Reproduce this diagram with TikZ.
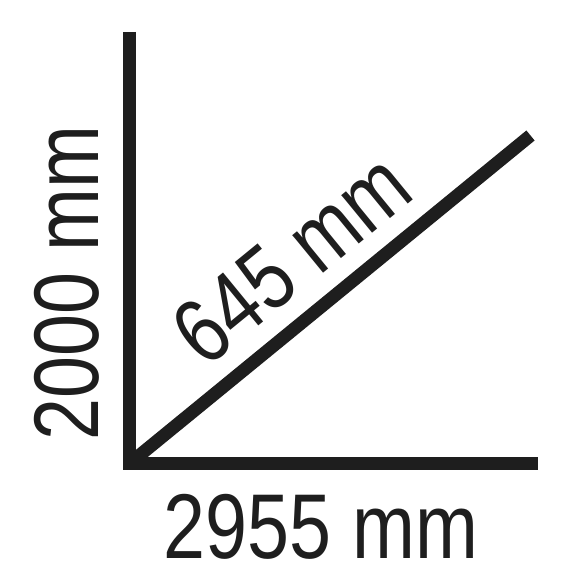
\documentclass[tikz,border=0pt]{standalone}
\usepackage{fontspec,graphicx}
\setmainfont{Liberation Sans}
\usetikzlibrary{calc,positioning}
\definecolor{ink}{RGB}{30,30,30}
\newcommand\dimtext[1]{\scalebox{0.82}[1]{#1}}

\begin{document}
\begin{tikzpicture}[x=1pt,y=1pt,
  bar/.style={ink,line width=13pt,line cap=butt,line join=miter},
  dimlabel/.style={ink,inner sep=0pt,anchor=base,font=\fontsize{92}{92}\selectfont}]
\useasboundingbox (0,0) rectangle (585,585);
\coordinate (top) at (129.5,553);
\coordinate (corner) at (129.5,121.5);
\coordinate (right) at (538,121.5);
\coordinate (diagend) at (530.5,449.5);
\draw[bar] (top) -- (corner) -- (right);
\draw[bar] (corner) -- (diagend);
\node[dimlabel,rotate=90] (height) at (98,302) {\dimtext{2000 mm}};
\node[dimlabel] (width) at (321,26) {\dimtext{2955 mm}};
\node[dimlabel,rotate=39.3] (depth) at (311.4,302.2) {\dimtext{645 mm}};
\end{tikzpicture}
\end{document}
